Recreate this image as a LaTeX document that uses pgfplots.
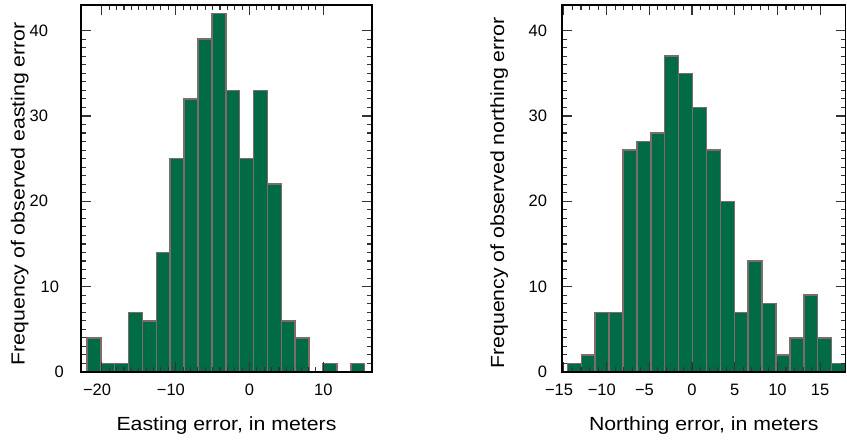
\documentclass[border=0pt]{standalone}
\usepackage{fontspec}
\setmainfont{Liberation Sans}
\newfontfamily\labelfont[FakeStretch=1.12]{Liberation Sans}
\usepackage{pgfplots}
\pgfplotsset{compat=1.18}
\definecolor{barfill}{RGB}{0,107,68}
\definecolor{baredge}{RGB}{125,108,105}
\pgfplotsset{
 myaxis/.style={
  scale only axis, height=367bp, ymin=0, ymax=43,
  axis on top, tick align=inside,
  major tick length=10bp, minor tick length=5bp,
  ytick={0,10,20,30,40}, minor y tick num=9,
  tick style={black!80, line width=1.1bp},
  axis line style={line width=1.3bp},
  tick label style={font=\fontsize{16.5bp}{19.8bp}\selectfont},
  /pgf/number format/assume math mode=true,
  xticklabel style={yshift=-8.5bp},
  label style={font=\labelfont\fontsize{19bp}{22bp}\selectfont},
  xlabel style={at={(axis description cs:0.5,0)}, anchor=base, yshift=-58.7bp},
 },
 mybar/.style={ybar, bar shift=0pt, fill=barfill, draw=baredge, line width=1.5bp},
}
\begin{document}
\begin{tikzpicture}
\useasboundingbox (0,0) rectangle (847bp,440bp);
\begin{axis}[myaxis, at={(81bp,68bp)}, anchor=south west, width=291bp,
  xmin=-22.83, xmax=16.6,
  xtick={-20,-10,0,10}, xticklabels={\llap{−}20,\llap{−}10,0,10},
  minor x tick num=9,
  yticklabels={0\kern-17bp,10\kern-11bp,20,30,40},
  yticklabel style={xshift=-29.5bp},
  xlabel={Easting error, in meters},
  ylabel={Frequency of observed easting error},
  ylabel style={at={(axis description cs:-0.194,0.486)}, anchor=base},
]
\addplot[mybar, bar width=1.882] coordinates {
(-21.089,4) (-19.207,1) (-17.325,1) (-15.443,7) (-13.561,6) (-11.679,14)
(-9.797,25) (-7.915,32) (-6.033,39) (-4.151,42) (-2.269,33) (-0.387,25)
(1.495,33) (3.377,22) (5.259,6) (7.141,4) (10.905,1) (14.669,1)
};
\end{axis}
\begin{axis}[myaxis, at={(562bp,68bp)}, anchor=south west, width=283.5bp,
  xmin=-15.22, xmax=17.97,
  xtick={-15,-10,-5,0,5,10,15}, xticklabels={\llap{−}15,\llap{−}10,\llap{−}5,0,5,10,15},
  minor x tick num=4,
  yticklabel style={xshift=-11.5bp},
  xlabel={Northing error, in meters},
  ylabel={Frequency of observed northing error},
  ylabel style={at={(axis description cs:-0.2046,0.488)}, anchor=base},
]
\addplot[mybar, bar width=1.628] coordinates {
(-13.776,1) (-12.148,2) (-10.52,7) (-8.892,7) (-7.264,26) (-5.636,27)
(-4.008,28) (-2.38,37) (-0.752,35) (0.876,31) (2.504,26) (4.132,20)
(5.76,7) (7.388,13) (9.016,8) (10.644,2) (12.272,4) (13.9,9)
(15.528,4) (17.156,1)
};
\end{axis}
\end{tikzpicture}
\end{document}
